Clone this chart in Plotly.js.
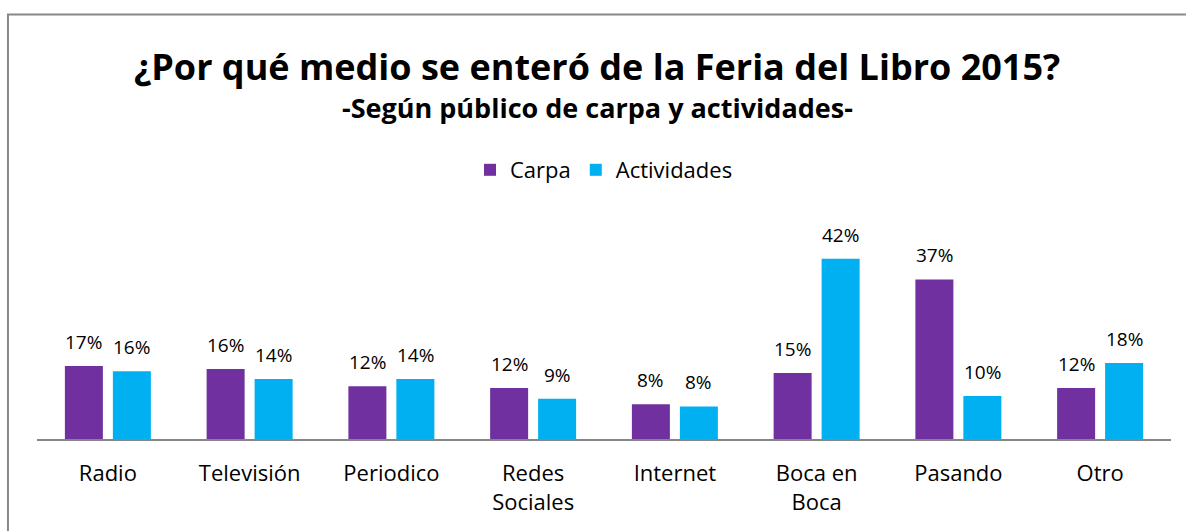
<!DOCTYPE html>
<html>
<head>
<meta charset="utf-8">
<script src="https://cdn.plot.ly/plotly-3.0.1.min.js"></script>
<style>html,body{margin:0;padding:0;background:#fff;}#chart{width:1186px;height:531px;}</style>
</head>
<body>
<div id="chart"></div>
<script>
const categories = ["Radio", "Televisión", "Periodico", "Redes<br>Sociales", "Internet", "Boca en<br>Boca", "Pasando", "Otro"];
const carpa = [0.17, 0.163, 0.123, 0.119, 0.081, 0.154, 0.372, 0.119];
const actividades = [0.158, 0.14, 0.14, 0.094, 0.076, 0.42, 0.10, 0.177];
const seriesNames = ["Carpa", "Actividades"];
const titleText = "¿Por qué medio se enteró de la Feria del Libro 2015?";
const subtitleText = "-Según público de carpa y actividades-";

const purple = "#7030A0", cyan = "#00B0F0";
const font = "'Open Sans', 'Noto Sans', sans-serif";

const traces = [
  {type: "bar", name: seriesNames[0], x: categories, y: carpa, marker: {color: purple}, hoverinfo: "y"},
  {type: "bar", name: seriesNames[1], x: categories, y: actividades, marker: {color: cyan}, hoverinfo: "y"}
];

const annotations = [];
[carpa, actividades].forEach((vals, s) => {
  vals.forEach((v, i) => {
    annotations.push({
      x: categories[i], y: v, xref: "x", yref: "y",
      text: Math.round(v * 100) + "%",
      showarrow: false, yanchor: "bottom", xanchor: "center",
      xshift: s === 0 ? -24 : 24, yshift: 9,
      font: {family: font, size: 19, color: "#000"}
    });
  });
});
annotations.push({
  text: "<b>" + subtitleText + "</b>", xref: "paper", yref: "paper",
  x: 0.494, y: (439 - 108) / 193, xanchor: "center", yanchor: "middle",
  showarrow: false, font: {family: font, size: 27, color: "#000"}
});

const layout = {
  width: 1186, height: 531,
  margin: {l: 37, r: 15, t: 246, b: 92},
  paper_bgcolor: "#fff", plot_bgcolor: "#fff",
  title: {text: "<b>" + titleText + "</b>", x: 0.5035, xanchor: "center", y: (531 - 67) / 531, yanchor: "middle",
          font: {family: font, size: 36, color: "#000"}},
  barmode: "group", bargap: 0.323, bargroupgap: 0.208,
  showlegend: true,
  legend: {orientation: "h", x: 0.5, xanchor: "center", y: (439 - 170) / 193, yanchor: "middle",
           font: {family: font, size: 22, color: "#000"}, itemwidth: 30},
  xaxis: {showline: true, linecolor: "#868686", linewidth: 2, ticks: "", showgrid: false,
          ticklabelstandoff: 14,
          tickfont: {family: font, size: 22, color: "#000"}, fixedrange: true},
  yaxis: {range: [0, 0.45], visible: false, showgrid: false, zeroline: false, fixedrange: true},
  annotations: annotations,
  shapes: [{type: "path", xref: "paper", yref: "paper",
            path: "M -0.0256,-0.6 L -0.0256,2.199 L 1.03,2.199",
            line: {color: "#888", width: 2}}]
};

Plotly.newPlot("chart", traces, layout, {displayModeBar: false, staticPlot: true});
</script>
</body>
</html>
